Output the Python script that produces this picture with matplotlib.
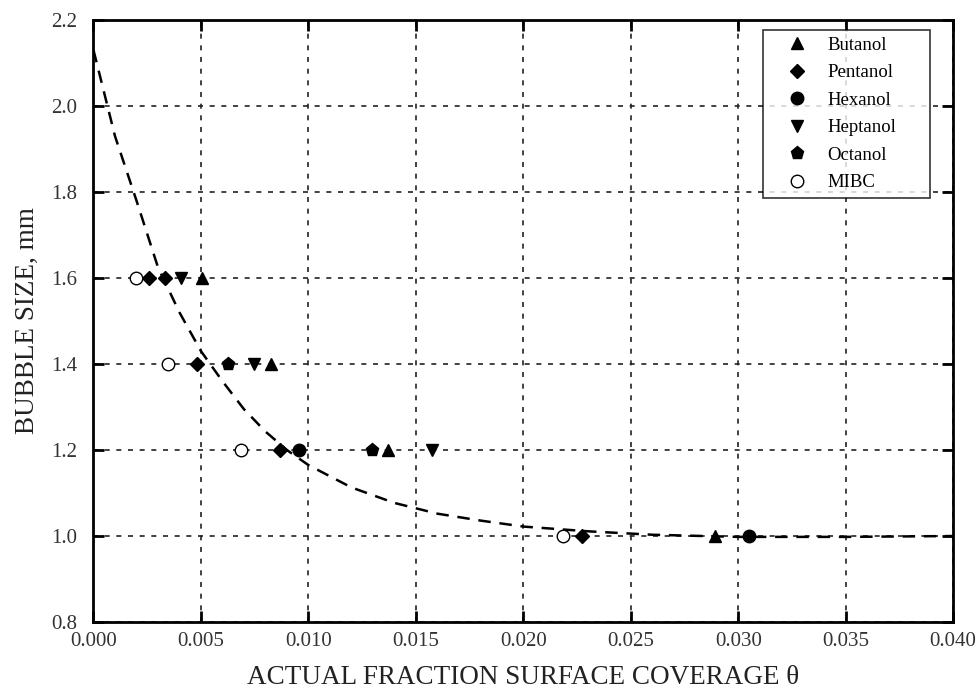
import matplotlib
matplotlib.use("Agg")
import matplotlib.pyplot as plt

# Measured bubble sizes (mm) against surface coverage for each frother
butanol_x = [0.00506, 0.00827, 0.0137, 0.02892]
butanol_y = [1.6, 1.4, 1.2, 1.0]
pentanol_x = [0.0026, 0.00335, 0.00481, 0.00866, 0.02271]
pentanol_y = [1.6, 1.6, 1.4, 1.2, 1.0]
hexanol_x = [0.00955, 0.03052]
hexanol_y = [1.2, 1.0]
heptanol_x = [0.00408, 0.00745, 0.01573]
heptanol_y = [1.6, 1.4, 1.2]
octanol_x = [0.00624, 0.01296]
octanol_y = [1.4, 1.2]
mibc_x = [0.00196, 0.00346, 0.00688, 0.02186]
mibc_y = [1.6, 1.4, 1.2, 1.0]

# Fitted trend line
fit_x = [0.000, 0.001, 0.002, 0.003, 0.004, 0.005, 0.006, 0.007, 0.008,
         0.009, 0.010, 0.012, 0.014, 0.016, 0.018, 0.020, 0.023, 0.026,
         0.030, 0.035, 0.040]
fit_y = [2.13, 1.93, 1.78, 1.625, 1.52, 1.43, 1.36, 1.295, 1.243,
         1.20, 1.165, 1.113, 1.077, 1.052, 1.036, 1.022, 1.011, 1.003,
         0.998, 0.998, 1.000]

x_ticks = [0.000, 0.005, 0.010, 0.015, 0.020, 0.025, 0.030, 0.035, 0.040]
y_ticks = [0.8, 1.0, 1.2, 1.4, 1.6, 1.8, 2.0, 2.2]

plt.rcParams["font.family"] = ["Liberation Serif", "DejaVu Serif"]

fig = plt.figure(figsize=(9.78, 6.94), dpi=100)
ax = fig.add_axes([0.0956, 0.1037, 0.879, 0.8675])

ax.plot(fit_x, fit_y, color="black", lw=1.8, dashes=(5, 3.5), zorder=2)

series = [
    (butanol_x, butanol_y, "^", "black", "Butanol", 8),
    (pentanol_x, pentanol_y, "D", "black", "Pentanol", 7),
    (hexanol_x, hexanol_y, "o", "black", "Hexanol", 9),
    (heptanol_x, heptanol_y, "v", "black", "Heptanol", 8),
    (octanol_x, octanol_y, "p", "black", "Octanol", 9.5),
    (mibc_x, mibc_y, "o", "white", "MIBC", 9),
]
for xs, ys, mk, fc, name, ms in series:
    ax.plot(xs, ys, linestyle="none", marker=mk, markersize=ms,
            markerfacecolor=fc, markeredgecolor="black", markeredgewidth=1.0,
            label=name, zorder=3)

ax.set_xlim(0, 0.040)
ax.set_ylim(0.8, 2.2)
ax.set_xticks(x_ticks)
ax.set_yticks(y_ticks)
ax.set_xticklabels([f"{v:.3f}" for v in x_ticks])
ax.set_yticklabels([f"{v:.1f}" for v in y_ticks])

ax.grid(True, color="#222222", linestyle=(0, (3, 4)), linewidth=1.2)
ax.tick_params(direction="in", length=8, width=2, labelsize=15,
               labelcolor="#333333", top=True, right=True)
ax.tick_params(axis="x", pad=7)
ax.tick_params(axis="y", pad=12)
for sp in ax.spines.values():
    sp.set_linewidth(2)

ax.set_xlabel("ACTUAL FRACTION SURFACE COVERAGE \u03b8", fontsize=19.5,
              color="#222222", labelpad=10)
ax.set_ylabel("BUBBLE SIZE, mm", fontsize=19.5, color="#222222", labelpad=8)

leg = ax.legend(loc="upper left", bbox_to_anchor=(0.779, 0.5, 0.1943, 0.4834),
                mode="expand", fontsize=13.5, frameon=True, fancybox=False,
                labelspacing=0.555, handletextpad=0.13, borderpad=0.35,
                handlelength=2.93, borderaxespad=0)
leg.get_frame().set_edgecolor("black")
leg.get_frame().set_linewidth(1.2)

fig.savefig("out.png", dpi=100, facecolor="white")
